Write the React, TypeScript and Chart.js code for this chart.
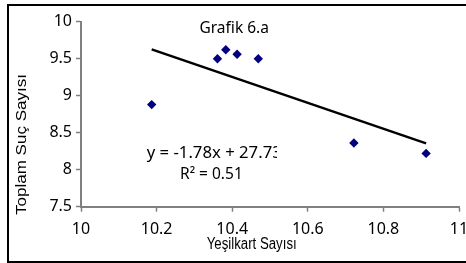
import React, { useEffect, useRef } from "react";
import { Chart, registerables } from "chart.js";

Chart.register(...registerables);

// Data
const xValues = [10.187, 10.361, 10.383, 10.413, 10.469, 10.722, 10.913];
const yValues = [8.88, 9.5, 9.62, 9.56, 9.5, 8.36, 8.22];

const chartTitle = "Grafik 6.a";
const xTitle = "Yeşilkart Sayısı";
const yTitle = "Toplam Suç Sayısı";
const equationLines = ["y = -1.78x + 27.73", "R² = 0.51"];

const xMin = 10, xMax = 11, xStep = 0.2;
const yMin = 7.5, yMax = 10, yStep = 0.5;

function regression(xs: number[], ys: number[]) {
  const n = xs.length;
  const mx = xs.reduce((a, b) => a + b, 0) / n;
  const my = ys.reduce((a, b) => a + b, 0) / n;
  let sxy = 0, sxx = 0;
  for (let i = 0; i < n; i++) {
    sxy += (xs[i] - mx) * (ys[i] - my);
    sxx += (xs[i] - mx) * (xs[i] - mx);
  }
  const slope = sxy / sxx;
  return { slope, intercept: my - slope * mx };
}

const fmt = (v: number | string) => String(Number(Number(v).toFixed(1)));

const textPlugin = {
  id: "textPlugin",
  afterDraw(chart: any) {
    const ctx: CanvasRenderingContext2D = chart.ctx;
    ctx.save();
    ctx.fillStyle = "#000";
    ctx.textBaseline = "alphabetic";

    // Chart title
    ctx.font = "15.5px 'Noto Sans'";
    ctx.textAlign = "center";
    ctx.fillText(chartTitle, 225.2, 26.7);

    // Equation (clipped on the right like the reference)
    ctx.save();
    ctx.beginPath();
    ctx.rect(0, 0, 268, 255);
    ctx.clip();
    ctx.font = "15.5px 'Noto Sans'";
    ctx.textAlign = "left";
    const part = ctx.measureText("y = -1.78x + 27.7").width;
    ctx.save();
    ctx.translate(137.7, 151.7);
    ctx.scale(125.5 / part, 1);
    ctx.fillText(equationLines[0], 0, 0);
    ctx.restore();
    ctx.fillText(equationLines[1], 171, 173.3);
    ctx.restore();

    // X title (stretched to width)
    ctx.save();
    ctx.font = "16px 'Liberation Sans Narrow', 'Liberation Sans'";
    ctx.textAlign = "left";
    let w = ctx.measureText(xTitle).width;
    ctx.translate(197.7, 243.3);
    ctx.scale(90 / w, 1);
    ctx.fillText(xTitle, 0, 0);
    ctx.restore();

    // Y title (rotated, stretched to length)
    ctx.save();
    ctx.font = "14px 'Liberation Sans Narrow', 'Liberation Sans'";
    ctx.textAlign = "left";
    w = ctx.measureText(yTitle).width;
    ctx.translate(16.5, 209);
    ctx.rotate(-Math.PI / 2);
    ctx.scale(141 / w, 1);
    ctx.fillText(yTitle, 0, 0);
    ctx.restore();

    ctx.restore();
  },
};

export default function App() {
  const ref = useRef<HTMLCanvasElement | null>(null);

  useEffect(() => {
    if (!ref.current) return;
    const { slope, intercept } = regression(xValues, yValues);
    const lo = Math.min(...xValues);
    const hi = Math.max(...xValues);
    const points = xValues.map((x, i) => ({ x, y: yValues[i] }));
    const trend = [
      { x: lo, y: intercept + slope * lo },
      { x: hi, y: intercept + slope * hi },
    ];

    const chart = new Chart(ref.current, {
      type: "scatter",
      data: {
        datasets: [
          {
            data: points,
            pointStyle: "rectRot",
            pointRadius: 4.7,
            backgroundColor: "#000080",
            borderColor: "#000080",
            borderWidth: 0,
            order: 0,
          },
          {
            type: "line",
            data: trend,
            showLine: true,
            borderColor: "#000",
            borderWidth: 2.5,
            pointRadius: 0,
            fill: false,
            order: 1,
          } as any,
        ],
      },
      options: {
        animation: false,
        responsive: false,
        devicePixelRatio: 1,
        layout: { padding: { left: 0, right: 40, top: 15.7, bottom: 0 } },
        plugins: {
          legend: { display: false },
          tooltip: { enabled: false },
          title: { display: false },
        },
        scales: {
          x: {
            type: "linear",
            position: "bottom",
            min: xMin,
            max: xMax,
            ticks: {
              stepSize: xStep,
              color: "#000",
              font: { family: "'Noto Sans'", size: 16 },
              padding: 8,
              maxRotation: 0,
              autoSkip: false,
              callback: (v: any) => fmt(v),
            },
            grid: {
              drawOnChartArea: false,
              drawTicks: true,
              tickLength: 5,
              tickWidth: 1.5,
              tickColor: "#808080",
              color: "#808080",
            },
            border: { color: "#808080", width: 2 },
            afterFit: (s: any) => {
              s.height = 54.3;
            },
          },
          y: {
            type: "linear",
            min: yMin,
            max: yMax,
            ticks: {
              stepSize: yStep,
              color: "#000",
              font: { family: "'Noto Sans'", size: 16 },
              padding: 4,
              callback: (v: any) => fmt(v),
            },
            grid: {
              drawOnChartArea: false,
              drawTicks: true,
              tickLength: 5,
              tickWidth: 1.5,
              tickColor: "#808080",
              color: "#808080",
            },
            border: { color: "#808080", width: 2 },
            afterFit: (s: any) => {
              s.width = 72;
            },
          },
        },
      },
      plugins: [textPlugin],
    });
    return () => chart.destroy();
  }, []);

  return (
    <div
      style={{
        position: "absolute",
        left: 7,
        top: 4,
        width: 457,
        height: 255,
        borderTop: "2px solid #000",
        borderLeft: "2px solid #000",
        borderBottom: "2px solid #000",
        overflow: "hidden",
        background: "#fff",
      }}
    >
      <canvas
        ref={ref}
        width={490}
        height={255}
        style={{ position: "absolute", left: 0, top: 0, width: 490, height: 255 }}
      />
    </div>
  );
}
